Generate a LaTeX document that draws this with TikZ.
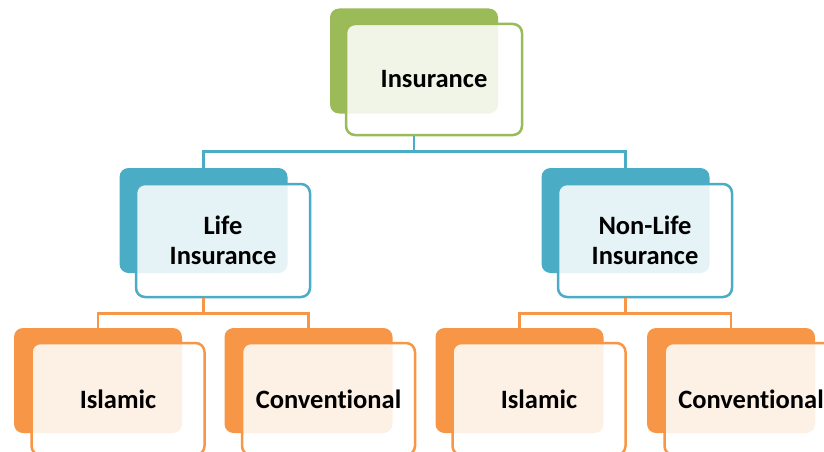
\documentclass[tikz,border=0pt]{standalone}
\usepackage{fontspec}
\setmainfont{Carlito}[Ligatures={NoCommon,NoRequired,NoContextual}]
\definecolor{leafgreen}{HTML}{9BBB59}
\definecolor{seablue}{HTML}{4BACC6}
\definecolor{tangerine}{HTML}{F79646}
\begin{document}
\begin{tikzpicture}[x=1pt,y=-1pt,
  backcard/.style={rectangle, rounded corners=9pt, fill=#1, draw=none,
    minimum width=168pt, minimum height=105pt, inner sep=0pt},
  frontcard/.style={rectangle, rounded corners=9pt, draw=#1, line width=2.5pt,
    fill=white, fill opacity=0.86, text opacity=1, align=center, inner sep=0pt,
    minimum width=173pt, minimum height=112pt,
    font=\fontsize{26.5}{30}\selectfont\bfseries},
  link/.style={draw=#1, line width=2.5pt}]
\clip (0,0) rectangle (824,452);

% Root
\node[backcard=leafgreen] (insB) at (414,61) {};
\node[frontcard=leafgreen, minimum width=176pt, minimum height=111pt] (ins) at (434,79.5) {Insurance};

% Second tier
\node[backcard=seablue] (lifeB) at (203.5,220.5) {};
\node[backcard=seablue] (nonB) at (625.5,220.5) {};

% Third tier
\node[backcard=tangerine] (islB1) at (98,380.5) {};
\node[backcard=tangerine] (conB1) at (308.5,380.5) {};
\node[backcard=tangerine] (islB2) at (519.5,380.5) {};
\node[backcard=tangerine] (conB2) at (731,380.5) {};

% Connectors
\draw[link=seablue] (insB.north |- ins.south) -- ++(0,15) -| (lifeB.north);
\draw[link=seablue] (insB.north |- ins.south) -- ++(0,15) -| (nonB.north);

\node[frontcard=seablue, minimum width=174pt, minimum height=113pt] (life) at (223,240.5) {Life\\Insurance};
\node[frontcard=seablue, minimum width=174pt, minimum height=113pt] (non) at (645,240.5) {Non-Life\\Insurance};

\draw[link=tangerine] (lifeB.north |- life.south) -- ++(0,15) -| (islB1.north);
\draw[link=tangerine] (lifeB.north |- life.south) -- ++(0,15) -| (conB1.north);
\draw[link=tangerine] (nonB.north |- non.south) -- ++(0,15) -| (islB2.north);
\draw[link=tangerine] (nonB.north |- non.south) -- ++(0,15) -| (conB2.north);

\node[frontcard=tangerine] (isl1) at (118,399) {Islamic};
\node[frontcard=tangerine] (con1) at (328.5,399) {Conventional};
\node[frontcard=tangerine] (isl2) at (539,399) {Islamic};
\node[frontcard=tangerine] (con2) at (751,399) {Conventional};
\end{tikzpicture}
\end{document}
